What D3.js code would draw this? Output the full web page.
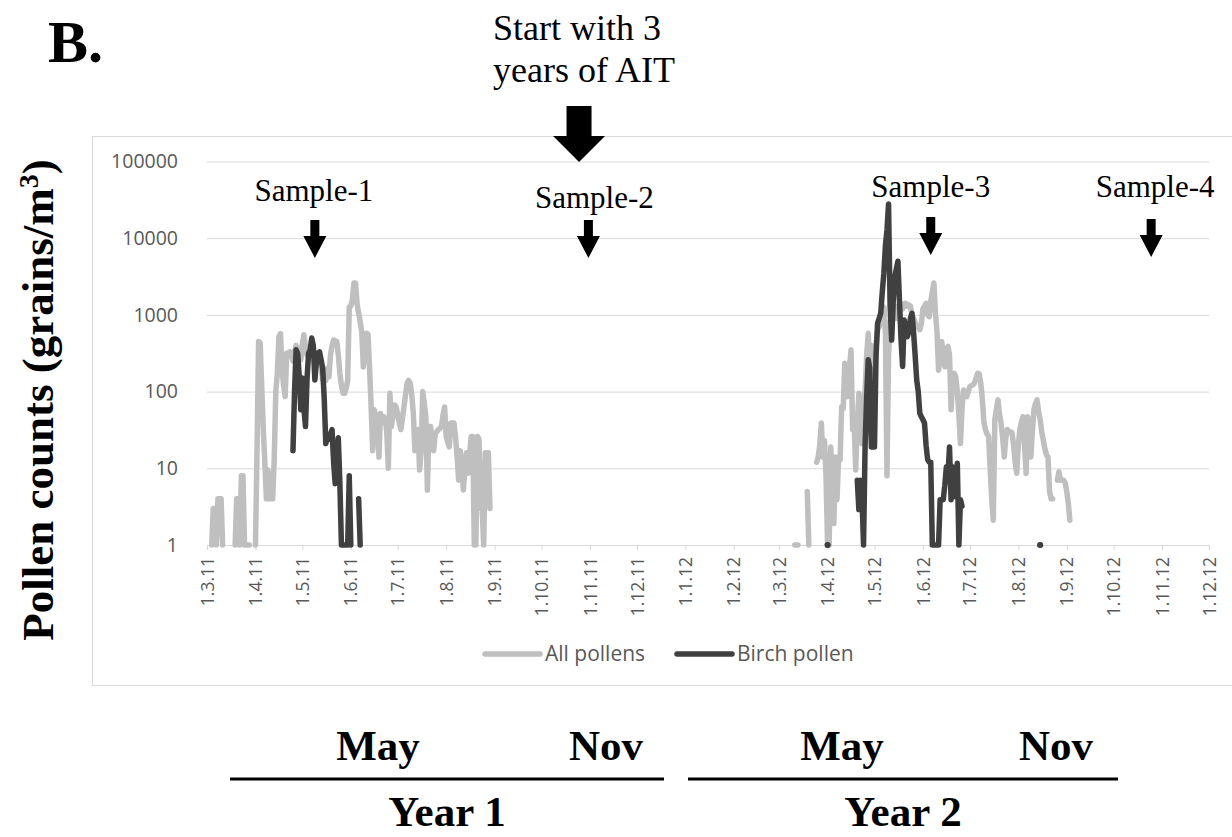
<!DOCTYPE html>
<html>
<head>
<meta charset="utf-8">
<script src="https://cdn.jsdelivr.net/npm/d3@7"></script>
<style>
  body { margin: 0; background: #fff; }
  svg { display: block; }
</style>
</head>
<body>
<div id="chart"></div>
<script>
// season start dates, each series is [day offset from season start, grains/m3]
// a 0 means no pollen that day (gap on the log axis)
const seasonStarts = ["2011-03-01", "2012-03-01"];

const allPollens2011 = [
  [3,1],[4,3],[5,3],[6,1],[7,4],[8,4],[9,4],[10,1],[11,0],
  [17,0],[18,1],[19,4],[20,4],[21,1],[22,8],[23,8],[24,1],[25,1],[26,1],[27,1],[28,0],
  [30,0],[31,1],[32,17],[33,450],[34,430],[35,120],[36,32],[37,12],[38,4],[39,9.5],[40,4],
  [41,4],[42,4],[43,13],[44,100],[45,173],[46,520],[47,570],[48,190],[49,120],[50,86],
  [51,316],[52,320],[53,330],[54,300],[55,250],[56,330],[57,400],[58,330],[59,300],[60,260],
  [61,420],[62,550],[63,380],[64,300],[65,280],[66,330],[67,340],[68,350],[69,320],[70,300],
  [71,290],[72,285],[73,210],[74,142],[75,150],[76,140],[77,200],[78,156],[79,300],[80,400],
  [81,470],[82,460],[83,450],[84,300],[85,173],[86,120],[87,95],[88,95],[89,110],[90,140],
  [91,1270],[92,1300],[93,1580],[94,2600],[95,2600],[96,1400],[97,1050],[98,815],[99,600],[100,210],
  [101,350],[102,575],[103,560],[104,200],[105,63],[106,17],[107,58],[108,47],[109,40],[110,14],
  [111,52],[112,40],[113,47],[114,45],[115,30],[116,10],[117,95],[118,35],[119,50],[120,67],
  [121,63],[122,50],[123,39],[124,32],[125,45],[126,63],[127,90],[128,128],[129,140],[130,128],
  [131,90],[132,52],[133,17],[134,25],[135,32],[136,9.5],[137,17],[138,100],[139,70],[140,47],
  [141,5.2],[142,35],[143,35],[144,25],[145,17],[146,28],[147,30],[148,32],[149,33],[150,35],
  [151,50],[152,63],[153,26],[154,22],[155,19],[156,39],[157,39],[158,39],[159,25],[160,14],
  [161,7],[162,17],[163,10],[164,5.2],[165,10],[166,16],[167,8.6],[168,15],[169,26],[170,26],
  [171,1],[172,1],[173,26],[174,24],[175,3],[176,3],[177,1],[178,16],[179,16],[180,16],[181,3]
];

const birch2011 = [
  [54,0],[55,17],[56,100],[57,350],[58,316],[59,160],[60,58],[61,150],[62,60],[63,35],
  [64,150],[65,316],[66,350],[67,500],[68,400],[69,142],[70,250],[71,316],[72,330],[73,260],
  [74,200],[75,80],[76,21],[77,25],[78,24],[79,28],[80,32],[81,12],[82,6.3],[83,15],
  [84,25],[85,6.3],[86,1],[87,1],[88,1],[89,1],[90,1],[91,8],[92,1],[93,0],
  [96,0],[97,4],[98,1],[99,0]
];

const allPollens2012 = [
  [10,1],[11,1],[12,1],[13,0],
  [17,0],[18,5],[19,1],[20,0],
  [23,0],[24,12],[25,14],[26,20],[27,39],[28,14],[29,23],[30,8],[31,1],[32,1],[33,19],[34,8],
  [35,1.9],[36,14],[37,3.9],[38,13],[39,13],[40,63],[41,60],[42,235],[43,200],[44,86],
  [45,200],[46,350],[47,32],[48,39],[49,9.5],[50,40],[51,95],[52,60],[53,21],[54,60],
  [55,105],[56,300],[57,575],[58,190],[59,400],[60,300],[61,105],[62,400],[63,640],[64,700],
  [65,900],[66,1200],[67,1260],[68,600],[69,8],[70,300],[71,800],[72,1000],[73,1200],[74,1100],
  [75,900],[76,1300],[77,1100],[78,1300],[79,1200],[80,1400],[81,1420],[82,1300],[83,1350],[84,1300],
  [85,1000],[86,900],[87,800],[88,700],[89,710],[90,640],[91,780],[92,1200],[93,1300],[94,1410],
  [95,1000],[96,950],[97,1500],[98,2000],[99,2600],[100,1050],[101,600],[102,190],[103,300],[104,450],
  [105,300],[106,210],[107,350],[108,390],[109,300],[110,58],[111,150],[112,173],[113,156],[114,100],
  [115,50],[116,21],[117,60],[118,105],[119,90],[120,86],[121,100],[122,116],[123,120],[124,122],
  [125,130],[126,150],[127,173],[128,170],[129,128],[130,80],[131,40],[132,32],[133,28],[134,26],
  [135,10],[136,4],[137,2.1],[138,43],[139,60],[140,78],[141,50],[142,39],[143,25],[144,14],
  [145,25],[146,32],[147,30],[148,30],[149,29],[150,20],[151,12],[152,8.6],[153,20],[154,32],
  [155,40],[156,47],[157,20],[158,8.6],[159,47],[160,30],[161,14],[162,30],[163,58],[164,70],
  [165,78],[166,55],[167,43],[168,30],[169,23],[170,18],[171,15],[172,14],[173,5],[174,4],
  [175,4],[176,0],
  [177,0],[178,7],[179,9],[180,7],[181,7],[182,7],[183,6.5],[184,5],[185,3.5],[186,2.1]
];

const birch2012 = [
  [30,0],[31,1],[32,0],
  [49,0],[50,7],[51,2.9],[52,7],[53,4],[54,1],[55,20],[56,86],[57,260],[58,200],[59,19],
  [60,19],[61,19],[62,300],[63,780],[64,900],[65,1050],[66,2000],[67,3500],[68,8000],[69,12800],
  [70,28000],[71,1290],[72,470],[73,1500],[74,3160],[75,4000],[76,5000],[77,1500],[78,470],[79,213],
  [80,860],[81,710],[82,520],[83,600],[84,900],[85,1050],[86,600],[87,300],[88,142],[89,100],
  [90,52],[91,47],[92,43],[93,39],[94,20],[95,13],[96,12],[97,12],[98,1],[99,1],
  [100,1],[101,1],[102,1],[103,3.9],[104,3.9],[105,3.9],[106,6],[107,10.5],[108,8],[109,19],
  [110,3.9],[111,10.5],[112,4.3],[113,4.3],[114,11.6],[115,1],[116,3.9],[117,3.2],[118,0],
  [166,0],[167,1],[168,0]
];

const seriesNames = ["All pollens", "Birch pollen"];
const seriesColors = ["#bfbfbf", "#404040"];
const yTicks = [1, 10, 100, 1000, 10000, 100000];
const axisRange = ["2011-03-01", "2012-12-01"];

const sampleNames = ["Sample-1", "Sample-2", "Sample-3", "Sample-4"];
const sampleDates = ["2011-05-09", "2011-10-31", "2012-06-06", "2012-10-25"];
const aitStart = "2011-10-25";

const periodLabels = ["May", "Nov", "May", "Nov"];
const yearLabels = ["Year 1", "Year 2"];

// ---- layout ----
const W = 1232, H = 837;
const parse = d3.timeParse("%Y-%m-%d");
const serif = "'Liberation Serif', 'Times New Roman', serif";

const svg = d3.select("#chart").append("svg")
    .attr("width", W)
    .attr("height", H)
    .style("font-family", "'Open Sans', sans-serif");

const x = d3.scaleTime()
    .domain(axisRange.map(parse))
    .range([207, 1209]);

const y = d3.scaleLog()
    .domain([1, 100000])
    .range([545, 161.5]);

// chart frame
svg.append("rect")
    .attr("x", 92.5).attr("y", 136.5)
    .attr("width", 1160).attr("height", 549)
    .attr("fill", "none")
    .attr("stroke", "#d9d9d9");

// y gridlines + labels
const yAxis = svg.append("g")
    .attr("transform", "translate(207,0)")
    .call(d3.axisLeft(y)
        .tickValues(yTicks)
        .tickFormat(d3.format("d"))
        .tickSize(-(1209 - 207))
        .tickPadding(29));
yAxis.select(".domain").remove();
yAxis.selectAll(".tick line").attr("stroke", "#d9d9d9");
yAxis.selectAll(".tick text")
    .attr("fill", "#595959")
    .style("font-size", "19.5px")
    .style("font-family", "'Open Sans', sans-serif");

// x axis with month ticks
const fmt = d => `${d.getDate()}.${d.getMonth() + 1}.${String(d.getFullYear()).slice(2)}`;
const xAxis = svg.append("g")
    .attr("transform", `translate(0,${y(1)})`)
    .call(d3.axisBottom(x)
        .ticks(d3.timeMonth.every(1))
        .tickFormat(fmt)
        .tickSize(5)
        .tickSizeOuter(0));
xAxis.select(".domain").attr("stroke", "#d9d9d9");
xAxis.selectAll(".tick line").attr("stroke", "#d9d9d9");
xAxis.selectAll(".tick text")
    .attr("fill", "#595959")
    .attr("transform", "rotate(-90)")
    .attr("x", -12)
    .attr("y", 0)
    .attr("dy", "0.35em")
    .attr("text-anchor", "end")
    .style("font-size", "17.5px")
    .style("font-family", "'Open Sans', sans-serif");

// series
function toPoints(arr, startStr) {
    const start = parse(startStr);
    return arr.map(([d, v]) => ({ date: d3.timeDay.offset(start, d), v }));
}

const series = [
    { name: seriesNames[0], color: seriesColors[0], seasons: [toPoints(allPollens2011, seasonStarts[0]), toPoints(allPollens2012, seasonStarts[1])] },
    { name: seriesNames[1], color: seriesColors[1], seasons: [toPoints(birch2011, seasonStarts[0]), toPoints(birch2012, seasonStarts[1])] }
];

const line = d3.line()
    .defined(d => d.v > 0)
    .x(d => x(d.date))
    .y(d => y(d.v));

const lw = 5.5;
series.forEach(s => {
    const g = svg.append("g");
    s.seasons.forEach(pts => {
        g.append("path")
            .datum(pts)
            .attr("d", line)
            .attr("fill", "none")
            .attr("stroke", s.color)
            .attr("stroke-width", lw)
            .attr("stroke-linejoin", "round")
            .attr("stroke-linecap", "round");
        // single days surrounded by zero days show as dots
        const lone = pts.filter((p, i) => p.v > 0 &&
            !(pts[i - 1] && pts[i - 1].v > 0) && !(pts[i + 1] && pts[i + 1].v > 0));
        g.selectAll(null).data(lone).enter().append("circle")
            .attr("cx", d => x(d.date))
            .attr("cy", d => y(d.v))
            .attr("r", lw / 2 + 0.3)
            .attr("fill", s.color);
    });
});

// legend
const legendX = [485, 677];
const legend = svg.append("g").attr("transform", "translate(0,654)");
series.forEach((s, i) => {
    legend.append("line")
        .attr("x1", legendX[i]).attr("x2", legendX[i] + 55)
        .attr("y1", 0).attr("y2", 0)
        .attr("stroke", s.color)
        .attr("stroke-width", lw)
        .attr("stroke-linecap", "round");
    legend.append("text")
        .attr("x", legendX[i] + 60)
        .attr("y", 0)
        .attr("dy", "0.35em")
        .attr("fill", "#595959")
        .style("font-size", "21px")
        .text(s.name);
});

// y title
svg.append("text")
    .attr("transform", "translate(53,400) rotate(-90)")
    .attr("text-anchor", "middle")
    .style("font-family", serif)
    .style("font-weight", "bold")
    .style("font-size", "45px")
    .call(t => {
        t.append("tspan").text("Pollen counts (grains/m");
        t.append("tspan").attr("baseline-shift", "super").style("font-size", "28px").text("3");
        t.append("tspan").text(")");
    });

// panel letter
svg.append("text")
    .attr("x", 48).attr("y", 62)
    .style("font-family", serif)
    .style("font-weight", "bold")
    .style("font-size", "60px")
    .text("B.");

// treatment start
svg.append("text")
    .attr("x", 493).attr("y", 40)
    .style("font-family", serif)
    .style("font-size", "36px")
    .call(t => {
        t.append("tspan").attr("x", 493).text("Start with 3");
        t.append("tspan").attr("x", 493).attr("dy", 42).text("years of AIT");
    });

function arrow(cx, top, headTop, tip, shaftW, headW) {
    return [
        [cx - shaftW / 2, top], [cx + shaftW / 2, top], [cx + shaftW / 2, headTop],
        [cx + headW / 2, headTop], [cx, tip], [cx - headW / 2, headTop], [cx - shaftW / 2, headTop]
    ];
}

const ax = x(parse(aitStart));
svg.append("polygon")
    .attr("points", arrow(ax, 106, 136, 162, 25, 52).join(" "))
    .attr("fill", "#000");

// sample arrows
const sampleTextDx = [-1, 6, 0, 4];
const sampleTextY = [201, 208, 197, 197];
const sampleArrowDy = [0, 0, -3, -1];
sampleNames.forEach((name, i) => {
    const sx = x(parse(sampleDates[i]));
    const dy = sampleArrowDy[i];
    svg.append("polygon")
        .attr("points", arrow(sx, 220 + dy, 236 + dy, 258 + dy, 9, 23).join(" "))
        .attr("fill", "#000");
    svg.append("text")
        .attr("x", sx + sampleTextDx[i])
        .attr("y", sampleTextY[i])
        .attr("text-anchor", "middle")
        .style("font-family", serif)
        .style("font-size", "31px")
        .text(name);
});

// period labels under the chart
const periodX = [378, 606, 842, 1056];
periodLabels.forEach((t, i) => {
    svg.append("text")
        .attr("x", periodX[i]).attr("y", 760)
        .attr("text-anchor", "middle")
        .style("font-family", serif)
        .style("font-weight", "bold")
        .style("font-size", "43px")
        .text(t);
});

const yearSpans = [[230, 664], [688, 1118]];
yearLabels.forEach((t, i) => {
    const [a, b] = yearSpans[i];
    svg.append("line")
        .attr("x1", a).attr("x2", b)
        .attr("y1", 779).attr("y2", 779)
        .attr("stroke", "#000")
        .attr("stroke-width", 3);
    svg.append("text")
        .attr("x", (a + b) / 2).attr("y", 826)
        .attr("text-anchor", "middle")
        .style("font-family", serif)
        .style("font-weight", "bold")
        .style("font-size", "43px")
        .text(t);
});
</script>
</body>
</html>
